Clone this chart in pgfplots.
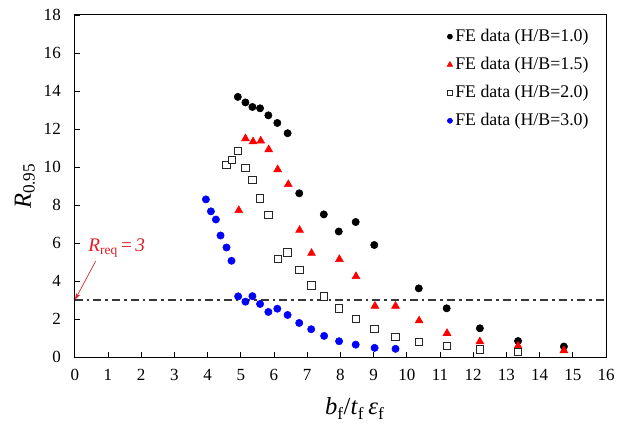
\documentclass[border=0pt]{standalone}
\usepackage{pgfplots}
\pgfplotsset{compat=1.18}
\usetikzlibrary{arrows.meta}
\usepackage{fontspec}
\setmainfont{Liberation Serif}
\definecolor{annred}{RGB}{220,30,40}
\definecolor{refgray}{RGB}{55,55,55}
\begin{document}
\begin{tikzpicture}[x=1pt,y=1pt]
\begin{axis}[
  name=ax,
  scale only axis,
  width=399.75pt, height=257.5pt,
  xmin=0, xmax=16, ymin=0, ymax=18,
  xtick={0,1,...,16}, ytick={0,2,...,18},
  tick align=inside, xtick pos=bottom, ytick pos=left,
  major tick length=3.75pt,
  axis line style={line width=0.8pt},
  every tick/.style={black, line width=0.6pt},
  /pgf/number format/assume math mode=true,
  tick label style={font=\fontsize{12.8}{14}\selectfont},
  xticklabel style={yshift=-5.5pt},
  yticklabel style={xshift=-7pt},
  xlabel={\textit{b}\textsubscript{f}/\textit{t}\textsubscript{f}\,\textit{ε}\textsubscript{f}},
  ylabel={\textit{R}\textsubscript{0.95}},
  label style={font=\fontsize{18.5}{20}\selectfont},
  xlabel style={at={(axis description cs:0.527,-0.15)}, anchor=center},
  ylabel style={at={(axis description cs:-0.094,0.5)}, anchor=center, rotate=0},
  legend style={draw=none, fill=none, at={(axis description cs:0.975,0.97)}, anchor=north east,
    font=\fontsize{13.4}{15}\selectfont, row sep=6.3pt, inner sep=1pt},
  legend cell align=left,
  legend image post style={every mark/.append style={scale=0.7}},
  clip=false,
]
\addplot[only marks, mark=*, mark size=2.75pt, black] coordinates {
(4.91,13.69) (5.14,13.40) (5.35,13.16) (5.58,13.09) (5.83,12.72) (6.10,12.32) (6.41,11.78) (6.76,8.62) (7.50,7.51) (7.95,6.61) (8.46,7.11) (9.02,5.90) (10.36,3.62) (11.20,2.57) (12.20,1.52) (13.35,0.85) (14.73,0.56)
};
\addlegendentry{FE data (H/B=1.0)}
\addplot[only marks, mark=triangle*, mark size=3.4pt, red, draw=red, fill=red] coordinates {
(4.94,7.72) (5.14,11.50) (5.37,11.34) (5.60,11.38) (5.84,10.92) (6.11,9.87) (6.43,9.09) (6.77,6.68) (7.13,5.47) (7.97,5.15) (8.47,4.25) (9.04,2.69) (9.66,2.69) (10.37,1.92) (11.21,1.26) (12.20,0.82) (13.35,0.59) (14.73,0.35)
};
\addlegendentry{FE data (H/B=1.5)}
\addplot[only marks, mark=square*, mark size=2.8pt, draw=black!85, fill=white, line width=0.6pt] coordinates {
(4.57,10.12) (4.73,10.38) (4.92,10.85) (5.14,9.96) (5.35,9.31) (5.58,8.35) (5.83,7.48) (6.11,5.17) (6.41,5.51) (6.76,4.59) (7.12,3.78) (7.51,3.20) (7.96,2.57) (8.46,2.01) (9.02,1.50) (9.66,1.06) (10.36,0.79) (11.21,0.59) (12.20,0.42) (13.35,0.29)
};
\addlegendentry{FE data (H/B=2.0)}
\addplot[only marks, mark=*, mark size=2.75pt, blue, draw=blue, fill=blue] coordinates {
(3.95,8.30) (4.10,7.67) (4.25,7.24) (4.39,6.40) (4.57,5.77) (4.72,5.07) (4.92,3.20) (5.14,2.92) (5.35,3.21) (5.58,2.80) (5.83,2.38) (6.10,2.55) (6.41,2.22) (6.76,1.80) (7.12,1.47) (7.51,1.12) (7.96,0.84) (8.46,0.66) (9.03,0.49) (9.66,0.44)
};
\addlegendentry{FE data (H/B=3.0)}
\addplot[refgray, line width=1.4pt, dash pattern=on 6pt off 3pt on 2pt off 3pt, forget plot] coordinates {(0,3) (16,3)};
\draw[annred, line width=0.5pt, -{Stealth[length=5pt,width=3.5pt]}] (axis cs:0.63,5.05) -- (axis cs:0.01,3.03);
\node[annred, font=\fontsize{14.5}{16}\selectfont, inner sep=0pt] at (axis cs:1.26,5.73) {\textit{R}\textsubscript{req}\,=\,\textit{3}};
\end{axis}
\path ([xshift=-56.25pt,yshift=-51.5pt]ax.south west) rectangle ([xshift=8.25pt,yshift=11.25pt]ax.north east);
\end{tikzpicture}
\end{document}
